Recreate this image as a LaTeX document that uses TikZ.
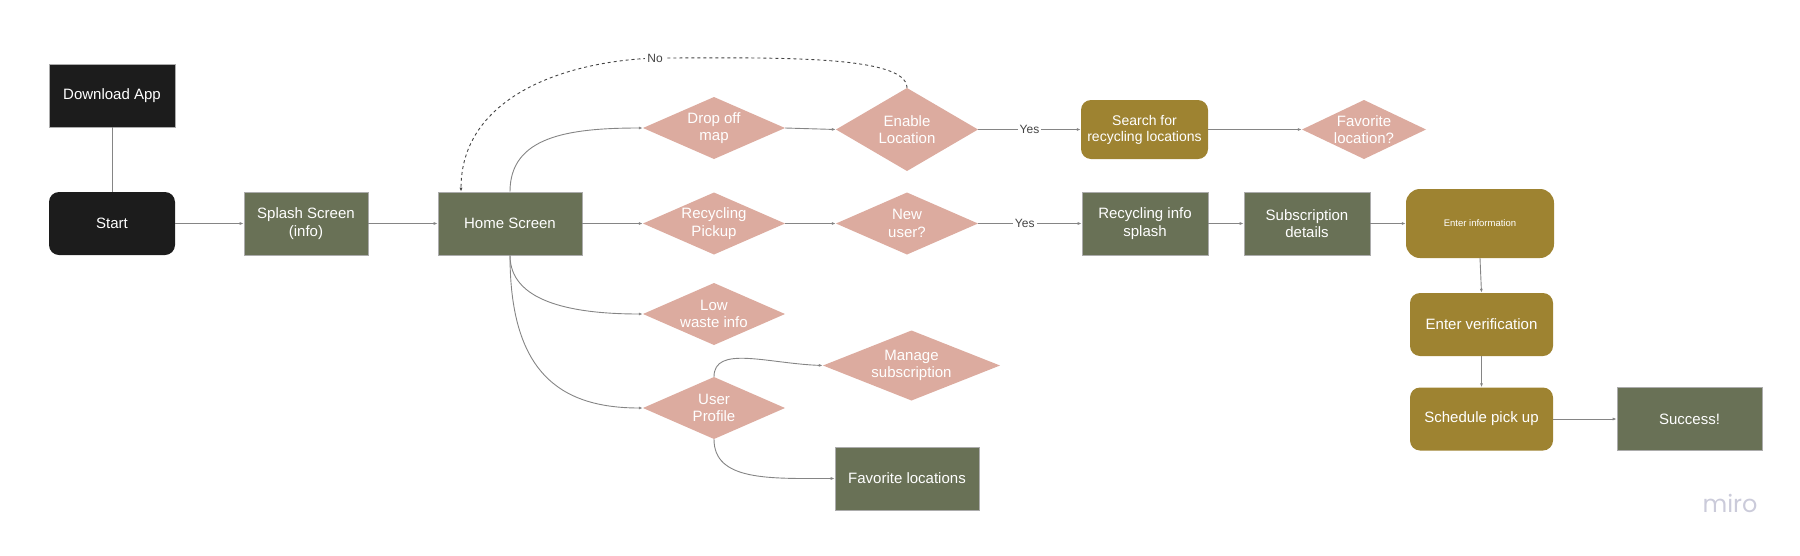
\documentclass[tikz,border=0pt]{standalone}
\usepackage{fontspec}
\setmainfont{Liberation Sans}
\newfontfamily\mirofont{Poppins}
\usetikzlibrary{arrows.meta,calc}
\definecolor{blk}{HTML}{1C1C1C}
\definecolor{grn}{HTML}{697156}
\definecolor{gld}{HTML}{9E8331}
\definecolor{pnk}{HTML}{DCAB9F}
\definecolor{lnc}{HTML}{858585}
\definecolor{lblc}{HTML}{444444}
\definecolor{miroc}{HTML}{CBCBDA}
\begin{document}
\begin{tikzpicture}[x=1pt,y=-1pt,
  base/.style={inner sep=0pt, align=center, text=white, font=\fontsize{15}{17.5}\selectfont},
  sq/.style={base, rectangle, fill=#1, draw=gray!65, line width=0.6pt},
  rnd/.style={base, rectangle, rounded corners=10pt, fill=#1},
  dia/.style={base, rectangle, path picture={\fill[pnk] (path picture bounding box.north) -- (path picture bounding box.east) -- (path picture bounding box.south) -- (path picture bounding box.west) -- cycle;}},
  conn/.style={draw=lnc, line width=0.9pt, -{Latex[length=4pt,width=3pt]}},
  lbl/.style={fill=white, inner sep=2pt, text=lblc, font=\fontsize{12}{14}\selectfont}
]
\useasboundingbox (0,0) rectangle (1800,555);

% boxes
\node[sq=blk, minimum width=126, minimum height=63] (dl) at (112,95.5) {Download App};
\node[rnd=blk, minimum width=126, minimum height=63] (start) at (112,223.5) {Start};
\node[sq=grn, minimum width=124, minimum height=63] (splash) at (306,223.5) {Splash Screen\\(info)};
\node[sq=grn, minimum width=144, minimum height=63] (home) at (510,223.5) {Home Screen};

\node[dia, minimum width=142, minimum height=62] (drop) at (714,128) {Drop off\\map};
\node[dia, minimum width=142, minimum height=83] (enable) at (907,129.5) {Enable\\Location};
\node[rnd=gld, minimum width=127, minimum height=59, font=\fontsize{14}{16}\selectfont] (search) at (1144.5,129.5) {Search for\\recycling locations};
\node[dia, minimum width=124, minimum height=59] (favq) at (1364,129.5) {Favorite\\location?};

\node[dia, minimum width=142, minimum height=62] (pickup) at (714,223.5) {Recycling\\Pickup};
\node[dia, minimum width=142, minimum height=62] (newuser) at (907,223.5) {New\\user?};
\node[sq=grn, minimum width=126, minimum height=63] (rinfo) at (1145,223.5) {Recycling info\\splash};
\node[sq=grn, minimum width=126, minimum height=63] (subs) at (1307,223.5) {Subscription\\details};
\node[rnd=gld, rounded corners=14pt, minimum width=148, minimum height=69, font=\fontsize{9.5}{11}\selectfont] (einfo) at (1480,223.5) {Enter information};
\node[rnd=gld, minimum width=143, minimum height=63] (ever) at (1481.5,324.5) {Enter verification};
\node[rnd=gld, minimum width=143, minimum height=63] (sched) at (1481.5,419) {Schedule pick up};
\node[sq=grn, minimum width=145, minimum height=63] (success) at (1689.5,419) {Success!};

\node[dia, minimum width=142, minimum height=62] (low) at (714,314) {Low\\waste info};
\node[dia, minimum width=177, minimum height=70] (manage) at (911.5,365.5) {Manage\\subscription};
\node[dia, minimum width=142, minimum height=62] (user) at (714,408) {User\\Profile};
\node[sq=grn, minimum width=144, minimum height=63] (favloc) at (907,478.5) {Favorite locations};

\node[text=miroc, inner sep=0pt, font=\mirofont\fontsize{24}{26}\selectfont] (miro) at (1730,503) {miro};

% connectors
\draw[draw=lnc, line width=0.9pt] (dl.south) -- (start.north);
\draw[conn] (start.east) -- (splash.west);
\draw[conn] (splash.east) -- (home.west);
\draw[conn] (home.east) -- (pickup.west);
\draw[conn] (pickup.east) -- (newuser.west);
\draw[conn] (newuser.east) -- node[lbl, pos=0.45] {Yes} (rinfo.west);
\draw[conn] (rinfo.east) -- (subs.west);
\draw[conn] (subs.east) -- (einfo.west);
\draw[conn] (einfo.south) -- (ever.north);
\draw[conn] (ever.south) -- (sched.north);
\draw[conn] (sched.east) -- (success.west);

\draw[conn] (drop.east) -- (enable.west);
\draw[conn] (enable.east) -- node[lbl] {Yes} (search.west);
\draw[conn] (search.east) -- (favq.west);

\draw[conn] (home.north) .. controls +(0,-55) and +(-75,0) .. (drop.west);
\draw[conn] (home.south) .. controls +(0,45) and +(-75,0) .. (low.west);
\draw[conn] (home.south) .. controls +(0,115) and +(-85,0) .. (user.west);
\draw[conn] (user.north) .. controls +(0,-32) and +(-55,-2) .. (manage.west);
\draw[conn] (user.south) .. controls +(0,42) and +(-65,0) .. (favloc.west);

\coordinate (nopt) at (655,58);
\draw[draw=lblc, line width=0.9pt, dash pattern=on 3pt off 3pt, -{Latex[length=4pt,width=3pt]}]
  (enable.north) .. controls +(0,-34) and +(110,0) .. (nopt)
  .. controls +(-100,4) and +(0,-90) .. ($(home.north)+(-49,0)$);
\node[lbl] at (nopt) {No};
\end{tikzpicture}
\end{document}
